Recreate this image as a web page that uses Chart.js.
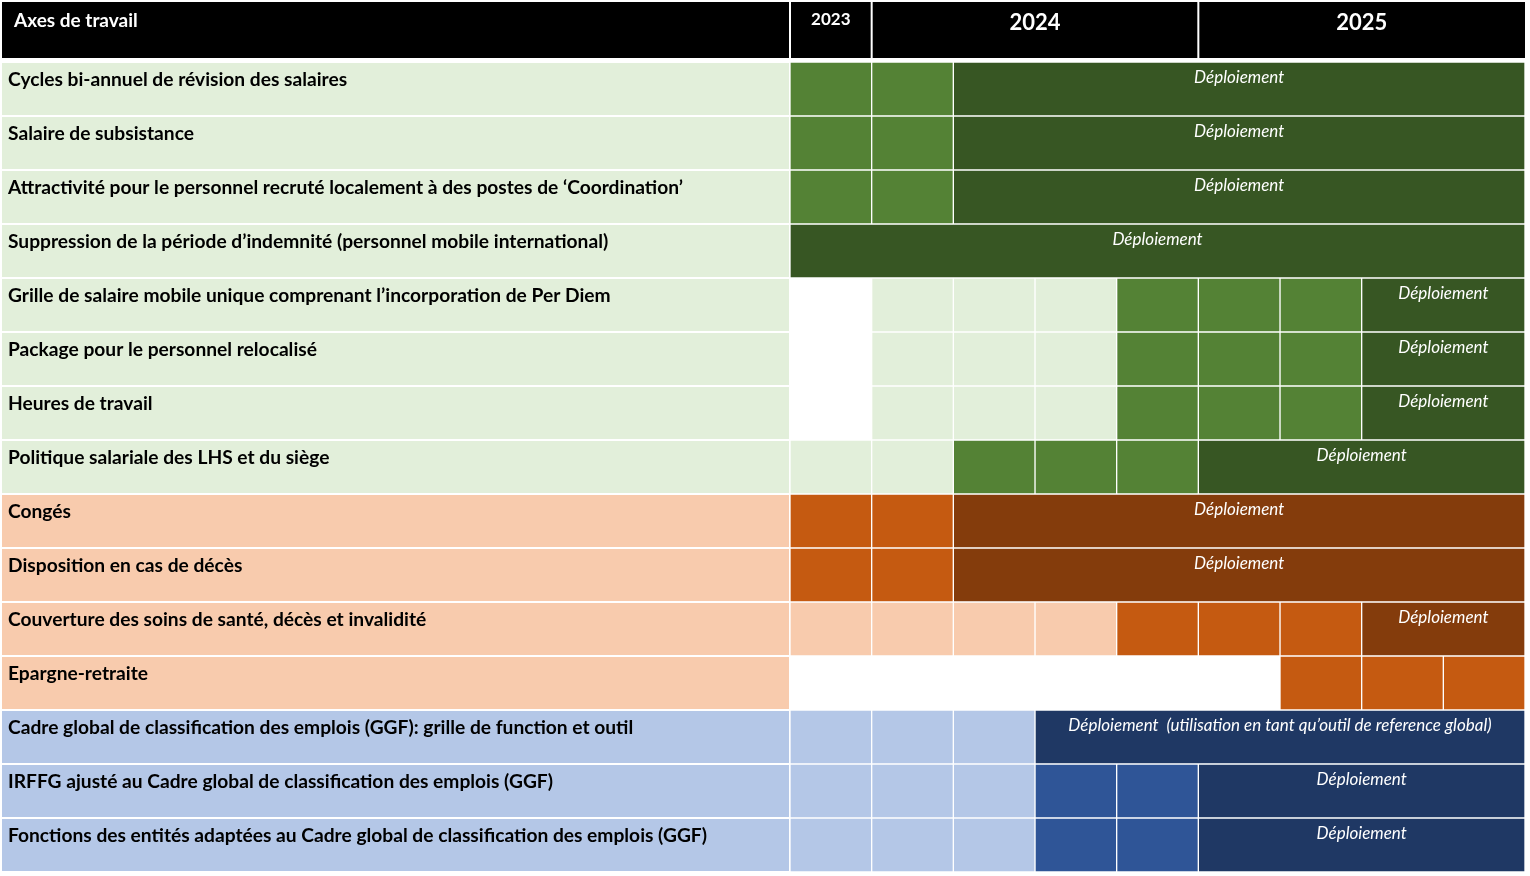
<!DOCTYPE html>
<html><head><meta charset="utf-8">
<script src="https://cdn.jsdelivr.net/npm/chart.js@4/dist/chart.umd.min.js"></script>
<style>html,body{margin:0;padding:0;background:#fff}#wrap{width:1530px;height:876px;position:relative}</style>
</head><body><div id="wrap"><canvas id="c"></canvas></div>
<script>
const headerTitle = 'Axes de travail';
const categories = [
  'Cycles bi-annuel de révision des salaires',
  'Salaire de subsistance',
  'Attractivité pour le personnel recruté localement à des postes de ‘Coordination’',
  'Suppression de la période d’indemnité (personnel mobile international)',
  'Grille de salaire mobile unique comprenant l’incorporation de Per Diem',
  'Package pour le personnel relocalisé',
  'Heures de travail',
  'Politique salariale des LHS et du siège',
  'Congés',
  'Disposition en cas de décès',
  'Couverture des soins de santé, décès et invalidité',
  'Epargne-retraite',
  'Cadre global de classification des emplois (GGF): grille de function et outil',
  'IRFFG ajusté au Cadre global de classification des emplois (GGF)',
  'Fonctions des entités adaptées au Cadre global de classification des emplois (GGF)'
];
const rowGroup = ['g','g','g','g','g','g','g','g','o','o','o','o','b','b','b'];
// time columns: 9 quarters (Q4 2023 .. Q4 2025)
const nQuarters = 9;
const years = ['2023','2024','2025'];
const yearStart = [0,1,5];
const yearEnd = [1,5,9];
// spans in quarter indices [start, end)
const prepSpan = [null,null,null,null,[1,4],[1,4],[1,4],[0,2],null,null,[0,4],null,[0,3],[0,3],[0,3]];
const workSpan = [[0,2],[0,2],[0,2],null,[4,7],[4,7],[4,7],[2,5],[0,2],[0,2],[4,7],[6,9],null,[3,5],[3,5]];
const deploySpan = [[2,9],[2,9],[2,9],[0,9],[7,9],[7,9],[7,9],[5,9],[2,9],[2,9],[7,9],null,[3,9],[5,9],[5,9]];
const deployLabels = ['Déploiement','Déploiement','Déploiement','Déploiement','Déploiement','Déploiement','Déploiement','Déploiement','Déploiement','Déploiement','Déploiement','','Déploiement  (utilisation en tant qu’outil de reference global)','Déploiement','Déploiement'];

const palette = {
  g: {light:'#E2EFDA', mid:'#548235', dark:'#375623'},
  o: {light:'#F8CBAD', mid:'#C55A11', dark:'#843C0C'},
  b: {light:'#B4C7E7', mid:'#2F5597', dark:'#1F3864'}
};

function cellData(spans, q){
  return spans.map(s => (s && q >= s[0] && q < s[1]) ? [q, q+1] : null);
}
const datasets = [];
for (let q = 0; q < nQuarters; q++) {
  datasets.push({label:'prep'+q, data: cellData(prepSpan,q), backgroundColor: ctx => palette[rowGroup[ctx.dataIndex]].light});
  datasets.push({label:'work'+q, data: cellData(workSpan,q), backgroundColor: ctx => palette[rowGroup[ctx.dataIndex]].mid});
}
datasets.push({label:'deploy', data: deploySpan, backgroundColor: ctx => palette[rowGroup[ctx.dataIndex]].dark, isDeploy:true});
datasets.forEach(d => Object.assign(d, {borderColor:'#ffffff', borderWidth:1, borderSkipped:false, barPercentage:1, categoryPercentage:1, grouped:false}));

const LABEL_FONT = 'bold 19.2px Lato';
const tablePlugin = {
  id:'table',
  beforeDatasetsDraw(chart){
    const {ctx, chartArea:ca, scales:{x,y}} = chart;
    const rowH = (ca.bottom - ca.top) / categories.length;
    ctx.save();
    // header
    ctx.fillStyle = '#000';
    ctx.fillRect(2, 2, ca.right - 2, 56);
    ctx.fillStyle = '#fff';
    ctx.fillRect(ca.left - 1, 2, 2, 56);
    years.forEach((yr,i) => {
      if (i > 0) { const px = x.getPixelForValue(yearStart[i]); ctx.fillRect(px - 1, 2, 2, 56); }
    });
    ctx.textBaseline = 'middle';
    ctx.font = 'bold 19px Lato';
    ctx.textAlign = 'left';
    ctx.fillText(headerTitle, 14, 21);
    years.forEach((yr,i) => {
      const cx = (x.getPixelForValue(yearStart[i]) + x.getPixelForValue(yearEnd[i])) / 2;
      const span = yearEnd[i] - yearStart[i];
      ctx.font = span > 1 ? 'bold 22px Lato' : 'bold 17px Lato';
      ctx.textAlign = 'center';
      ctx.fillText(yr, cx, span > 1 ? 23 : 20);
    });
    // label column
    categories.forEach((lab,i) => {
      const cy = y.getPixelForValue(i);
      const top = cy - rowH/2;
      ctx.fillStyle = palette[rowGroup[i]].light;
      ctx.fillRect(2, top + 1, ca.left - 3, rowH - 2);
      ctx.fillStyle = '#000';
      ctx.font = LABEL_FONT;
      ctx.textAlign = 'left';
      ctx.fillText(lab, 8, top + 18);
    });
    ctx.restore();
  },
  afterDatasetsDraw(chart){
    const {ctx, chartArea:ca} = chart;
    const rowH = (ca.bottom - ca.top) / categories.length;
    const idx = chart.data.datasets.findIndex(d => d.isDeploy);
    const meta = chart.getDatasetMeta(idx);
    ctx.save();
    ctx.fillStyle = '#fff';
    ctx.font = 'italic 17px Lato';
    ctx.textAlign = 'center';
    ctx.textBaseline = 'middle';
    meta.data.forEach((el,i) => {
      if (!deploySpan[i] || !deployLabels[i]) return;
      const cx = (el.x + el.base) / 2;
      ctx.fillText(deployLabels[i], cx, el.y - rowH/2 + 16);
    });
    ctx.restore();
  }
};

new Chart(document.getElementById('c'), {
  type:'bar',
  data:{labels: categories, datasets},
  options:{
    indexAxis:'y',
    responsive:true,
    maintainAspectRatio:false,
    animation:false,
    layout:{padding:{left:790, right:5, top:62, bottom:4}},
    scales:{
      x:{type:'linear', min:0, max:nQuarters, display:false},
      y:{type:'category', display:false}
    },
    plugins:{legend:{display:false}, tooltip:{enabled:false}}
  },
  plugins:[tablePlugin]
});
</script></body></html>
